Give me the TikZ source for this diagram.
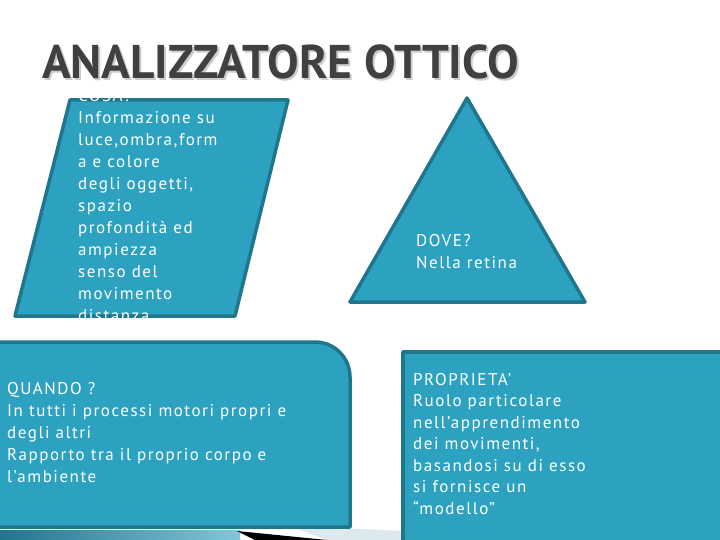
\documentclass[tikz,border=0pt]{standalone}
\usepackage{fontspec}
\setmainfont{PT Sans}
\newfontfamily\bodyfont[LetterSpace=9]{PT Sans}
\usetikzlibrary{shadings}
\definecolor{boxfill}{RGB}{44,162,192}
\definecolor{boxline}{RGB}{32,118,141}
\definecolor{titlegray}{RGB}{64,64,64}
\tikzset{
  box/.style={fill=boxfill,draw=boxline,line width=3.5pt,line join=round},
  boxtext/.style={text=white,font=\bodyfont\fontsize{17}{22}\selectfont,align=left,inner sep=0pt,anchor=north west},
  titletext/.style={font=\bfseries\fontsize{47.3}{50}\selectfont,anchor=base west,inner sep=0pt},
}
\begin{document}
\begin{tikzpicture}[x=1pt,y=-1pt]
  \useasboundingbox[fill=white] (0,0) rectangle (720,540);
  % decorazione in basso
  \shade[left color=boxline,right color=boxfill!60] (0,530) rectangle (240,540);
  \path[fill={rgb,255:red,220;green,234;blue,240}] (290,526) -- (405,531) -- (405,540) -- (327,540) -- cycle;
  \path[fill=black] (237,531) -- (327,540) -- (255,540) -- cycle;
  % titolo
  \node[titletext,text=black!20] (titleshadow) at (44,81) {ANALIZZATORE OTTICO};
  \node[titletext,text=titlegray] (title) at (42,79) {ANALIZZATORE OTTICO};
  % COSA?
  \draw[box] (70,100) -- (288,100) -- (235,316) -- (15,316) -- cycle;
  \begin{scope}
    \clip (0,98) rectangle (300,319);
    \node[boxtext] (cosa) at (78,89) {COSA?\\Informazione su\\luce,ombra,form\\a e colore\\degli oggetti,\\spazio\\profondità ed\\ampiezza\\senso del\\movimento\\distanza};
  \end{scope}
  % DOVE?
  \draw[box] (467,98) -- (585,302) -- (350,302) -- cycle;
  \node[boxtext] (dove) at (416,234) {DOVE?\\Nella retina};
  % QUANDO?
  \draw[box] (-5,342) -- (315,342) arc (-90:0:35) -- (350,527) -- (-5,527) -- cycle;
  \node[boxtext] (quando) at (7,382) {QUANDO ?\\In tutti i processi motori propri e\\degli altri\\Rapporto tra il proprio corpo e\\l’ambiente};
  % PROPRIETA'
  \draw[box] (403,352) rectangle (725,545);
  \node[boxtext,font=\bodyfont\fontsize{17}{21.5}\selectfont] (proprieta) at (413,373) {PROPRIETA’\\Ruolo particolare\\nell’apprendimento\\dei movimenti,\\basandosi su di esso\\si fornisce un\\“modello”};
\end{tikzpicture}
\end{document}
